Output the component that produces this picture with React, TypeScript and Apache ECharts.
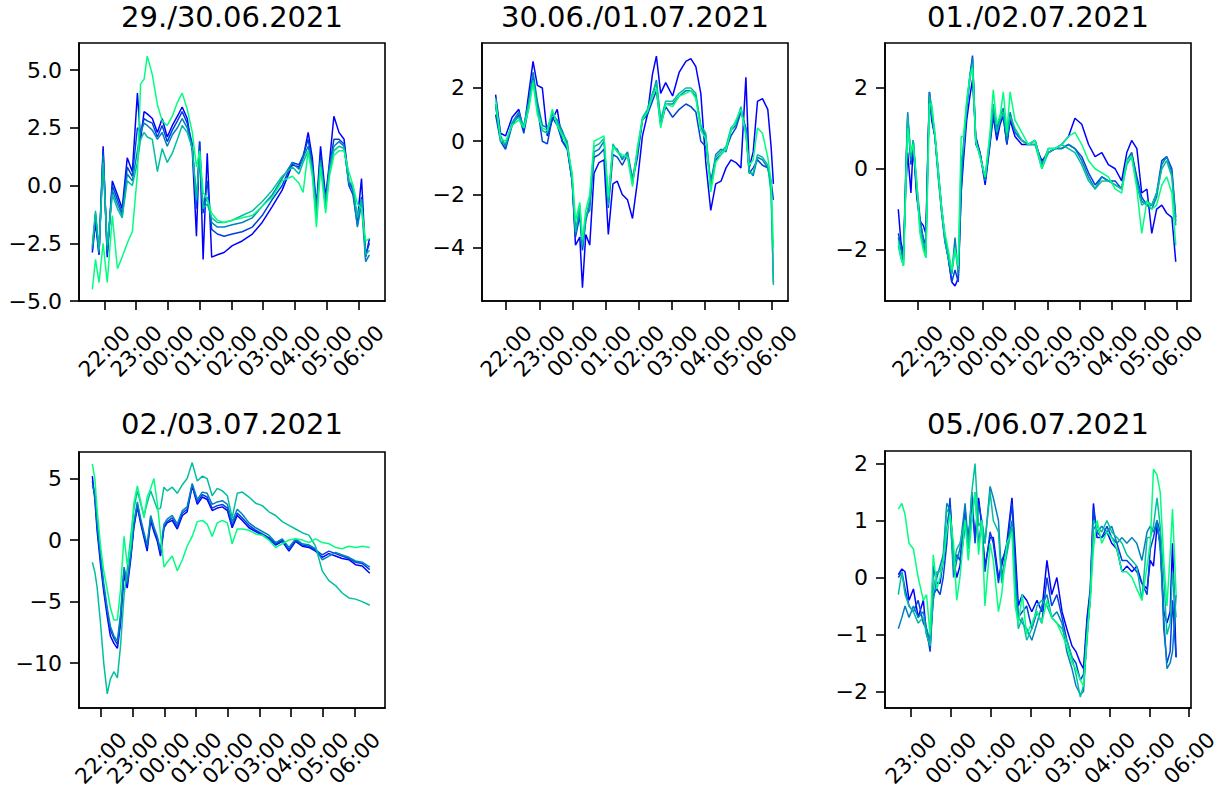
import React, { useEffect, useRef } from "react";
import * as echarts from "echarts";

// ---------- colours (winter colormap, 5 steps) ----------
const LINE_COLORS = ["#0000ff", "#0040df", "#0080bf", "#00bf9f", "#00ff80"];
const FONT = "DejaVu Sans";

// ---------- tick values ----------
const X_TICKS_A = [22, 23, 24, 25, 26, 27, 28, 29, 30]; // 22:00 .. 06:00
const X_TICKS_B = [23, 24, 25, 26, 27, 28, 29, 30]; // 23:00 .. 06:00

// ---------- Panel 1: 29./30.06.2021 ----------
const P1_TITLE = "29./30.06.2021";
const P1_Y_TICKS = [-5, -2.5, 0, 2.5, 5];
const P1_HOURS = [21.62, 21.72, 21.83, 21.96, 22.09, 22.25, 22.41, 22.56, 22.72, 22.88, 23.04, 23.14, 23.25, 23.35, 23.51, 23.67, 23.82, 23.98, 24.14, 24.30, 24.45, 24.61, 24.77, 24.90, 25.00, 25.11, 25.24, 25.38, 25.56, 25.77, 26.03, 26.34, 26.66, 26.97, 27.29, 27.60, 27.92, 28.13, 28.26, 28.42, 28.55, 28.68, 28.81, 28.97, 29.09, 29.23, 29.39, 29.55, 29.70, 29.83, 29.97, 30.10, 30.23, 30.35];
const P1_L0 = [-2.9, -1.6, -3.0, 1.7, -3.1, 0.2, -0.4, -1.0, 1.2, 0.6, 4.0, 2.0, 3.2, 3.1, 2.9, 2.3, 2.9, 2.1, 2.6, 3.0, 3.4, 2.9, 1.5, -2.2, 1.9, -3.2, 1.4, -3.1, -3.0, -2.9, -2.6, -2.4, -2.1, -1.6, -0.9, -0.2, 0.9, 0.8, 1.2, 2.3, 1.2, -0.9, 1.7, -0.5, 1.0, 3.0, 2.3, 2.0, 0.2, -0.2, -1.5, 0.3, -3.1, -2.3];
const P1_L1 = [-2.8, -1.3, -3.0, 1.5, -3.0, 0.0, -0.6, -1.2, 0.8, 0.4, 2.5, 2.3, 2.9, 2.8, 2.7, 2.1, 2.6, 1.9, 2.4, 2.8, 3.2, 2.7, 1.8, -1.0, 1.9, -1.2, 0.2, -1.9, -2.1, -2.2, -2.1, -2.0, -1.8, -1.3, -0.6, 0.0, 1.0, 0.9, 1.3, 2.0, 0.9, -1.2, 1.3, -0.8, 0.8, 2.0, 2.0, 1.8, 0.0, -0.4, -1.7, -0.5, -3.0, -2.5];
const P1_L2 = [-2.7, -1.2, -2.9, 1.3, -2.8, -0.2, -0.8, -1.3, 0.5, 0.2, 1.5, 2.3, 2.7, 2.6, 2.4, 2.0, 2.3, 1.7, 2.2, 2.5, 2.9, 2.5, 1.6, -0.7, 1.5, -1.0, -0.5, -1.6, -1.8, -1.8, -1.7, -1.6, -1.4, -0.9, -0.4, 0.3, 1.0, 0.7, 1.2, 1.7, 0.8, -1.0, 1.1, -0.7, 0.8, 1.7, 1.9, 1.7, 0.1, -0.2, -1.8, -0.8, -3.3, -3.0];
const P1_L3 = [-2.6, -1.1, -2.8, 1.0, -2.6, -0.4, -1.0, -1.4, 0.2, 0.0, 1.0, 2.0, 2.3, 2.1, 2.0, 0.6, 1.6, 1.0, 1.4, 2.0, 2.6, 2.3, 1.6, -0.6, 1.3, -1.0, -0.8, -1.4, -1.6, -1.6, -1.5, -1.3, -1.1, -0.7, -0.2, 0.4, 0.8, 0.5, 1.0, 1.5, 0.6, -1.4, 1.0, -1.0, 0.6, 1.5, 1.7, 1.6, 0.2, 0.0, -1.4, -0.6, -3.0, -2.8];
const P1_L4 = [-4.5, -3.2, -4.2, -2.5, -4.2, -1.3, -3.6, -3.1, -2.5, -2.0, 0.5, 4.4, 4.6, 5.6, 4.8, 3.5, 2.8, 2.6, 3.0, 3.6, 4.0, 3.3, 2.3, 0.8, 1.5, -0.3, -0.6, -1.2, -1.5, -1.6, -1.5, -1.4, -1.3, -0.9, -0.5, 0.2, 0.4, 0.1, -0.3, 1.5, 0.4, -1.8, 0.8, -1.2, 0.4, 1.3, 1.5, 1.5, 0.6, 0.0, -0.8, -1.0, -2.4, -2.3];

// ---------- Panel 2: 30.06./01.07.2021 ----------
const P2_TITLE = "30.06./01.07.2021";
const P2_Y_TICKS = [-4, -2, 0, 2];
const P2_HOURS = [21.68, 21.83, 21.98, 22.18, 22.38, 22.53, 22.68, 22.81, 22.94, 23.09, 23.24, 23.39, 23.54, 23.69, 23.84, 23.99, 24.09, 24.22, 24.30, 24.40, 24.52, 24.65, 24.80, 24.95, 25.08, 25.22, 25.35, 25.50, 25.66, 25.81, 25.96, 26.11, 26.26, 26.41, 26.53, 26.66, 26.81, 27.02, 27.22, 27.42, 27.57, 27.72, 27.87, 28.02, 28.17, 28.32, 28.48, 28.63, 28.78, 28.93, 29.08, 29.23, 29.33, 29.45, 29.58, 29.73, 29.89, 29.99, 30.06];
const P2_L0 = [1.75, 0.3, 0.2, 0.9, 1.2, 0.4, 1.8, 3.0, 2.1, 2.0, 0.2, 0.8, 1.2, 0.0, -0.2, -1.5, -3.9, -3.6, -5.5, -3.5, -3.9, -1.2, -0.8, -0.7, -3.5, -1.6, -1.5, -2.0, -2.2, -2.9, -1.5, 0.2, 1.0, 2.5, 3.2, 1.8, 2.2, 1.7, 2.6, 3.0, 3.1, 2.8, 1.8, -0.8, -2.6, -1.6, -1.5, -1.0, -0.7, -0.8, -1.0, 2.4, -1.0, -0.4, 1.5, 1.6, 1.2, -0.2, -1.6];
const P2_L1 = [1.0, 0.0, -0.3, 0.6, 1.0, 0.3, 1.3, 2.4, 1.3, 0.0, -0.1, 0.9, 0.6, 0.0, -0.3, -1.5, -3.6, -2.8, -4.1, -3.0, -2.3, -0.6, -0.5, -0.3, -2.5, -0.5, -0.6, -0.9, -0.5, -1.5, -0.6, 0.8, 1.0, 1.5, 1.9, 0.6, 1.3, 0.9, 1.2, 1.4, 1.3, 1.1, 0.0, -0.2, -1.5, -0.7, -0.5, -0.3, 0.2, 0.5, 1.1, 0.5, -1.2, -1.0, -0.7, -0.9, -1.0, -1.5, -2.2];
const P2_L2 = [1.3, 0.2, -0.2, 0.7, 1.1, 0.5, 1.5, 2.6, 1.5, 0.6, 0.5, 1.0, 0.8, 0.4, -0.1, -1.5, -3.5, -2.6, -4.0, -2.8, -2.6, -0.4, -0.3, 0.0, -2.3, -0.2, -0.3, -0.7, -0.4, -1.4, -0.4, 0.8, 1.1, 1.7, 2.3, 0.7, 1.4, 1.4, 1.7, 1.9, 1.9, 1.7, 0.5, 0.2, -1.6, -0.5, -0.3, -0.4, 0.4, 0.6, 1.2, 0.4, -1.1, -1.3, -0.6, -0.7, -1.0, -1.6, -5.3];
const P2_L3 = [1.4, 0.0, -0.1, 0.7, 0.9, 0.6, 1.4, 2.3, 1.2, 0.4, 0.3, 1.1, 0.7, 0.3, 0.0, -1.4, -3.4, -2.4, -3.9, -2.9, -2.2, -0.2, -0.1, 0.1, -2.4, -0.1, -0.4, -0.6, -0.5, -1.6, -0.3, 0.9, 1.2, 1.8, 2.2, 0.8, 1.5, 1.5, 1.8, 2.0, 2.0, 1.8, 0.6, 0.3, -1.8, -0.6, -0.4, -0.2, 0.5, 0.7, 1.3, 0.3, -1.2, -1.2, -0.5, -0.6, -0.9, -2.0, -5.4];
const P2_L4 = [1.6, 0.1, 0.0, 0.6, 0.8, 0.5, 1.2, 2.2, 1.0, 0.5, 0.4, 1.2, 0.6, 0.2, -0.2, -1.2, -3.0, -2.3, -3.7, -2.6, -2.0, 0.0, 0.1, 0.2, -2.1, -0.2, -0.4, -0.5, -0.6, -1.7, -0.2, 0.8, 1.1, 1.7, 2.0, 0.5, 1.4, 1.3, 1.7, 1.8, 1.9, 1.6, 0.4, 0.1, -1.9, -0.8, -0.5, -0.3, 0.4, 0.8, 1.2, 0.2, -0.9, -0.7, 0.5, 0.3, -0.6, -1.5, -4.0];

// ---------- Panel 3: 01./02.07.2021 ----------
const P3_TITLE = "01./02.07.2021";
const P3_Y_TICKS = [-2, 0, 2];
const P3_HOURS = [21.40, 21.48, 21.56, 21.63, 21.69, 21.79, 21.86, 21.97, 22.07, 22.17, 22.25, 22.31, 22.36, 22.43, 22.53, 22.64, 22.74, 22.84, 22.94, 23.05, 23.15, 23.25, 23.34, 23.41, 23.51, 23.61, 23.69, 23.79, 23.92, 24.08, 24.23, 24.33, 24.44, 24.54, 24.64, 24.75, 24.85, 25.00, 25.21, 25.41, 25.62, 25.83, 26.03, 26.24, 26.44, 26.65, 26.85, 27.06, 27.27, 27.47, 27.68, 27.88, 28.09, 28.29, 28.45, 28.60, 28.76, 28.91, 29.07, 29.22, 29.37, 29.53, 29.68, 29.84, 29.96];
const P3_L0 = [-1.0, -1.8, -2.1, -0.5, 0.4, -0.6, 0.6, -0.7, -1.3, -1.4, -1.6, 0.3, 1.9, 1.2, 0.8, -0.2, -1.1, -1.8, -2.2, -2.8, -2.9, -2.7, -0.6, 0.2, 1.2, 1.8, 2.2, 0.8, 0.4, -0.4, 0.6, 1.3, 0.7, 1.1, 1.3, 0.6, 1.2, 0.8, 0.6, 0.6, 0.6, 0.2, 0.4, 0.5, 0.6, 0.8, 1.25, 1.1, 0.6, 0.3, 0.4, 0.1, 0.0, -0.3, 0.4, 0.7, 0.5, -0.6, -0.5, -1.6, -1.0, -0.9, -1.1, -1.2, -2.3];
const P3_L1 = [-1.6, -1.9, -2.2, -0.1, 1.3, 0.1, 0.7, -0.6, -1.3, -1.7, -1.9, 0.3, 1.8, 1.3, 0.8, -0.1, -1.0, -1.7, -2.2, -2.8, -2.5, -2.8, -0.5, 0.4, 1.5, 2.3, 2.8, 0.7, 0.4, -0.3, 0.7, 1.4, 0.8, 1.2, 1.3, 0.6, 1.3, 0.9, 0.7, 0.6, 0.7, 0.1, 0.4, 0.5, 0.5, 0.6, 0.5, 0.3, -0.1, -0.4, -0.2, -0.3, -0.3, -0.5, 0.2, 0.4, -0.2, -0.7, -0.9, -0.9, -0.6, 0.2, 0.3, 0.0, -1.2];
const P3_L2 = [-1.7, -2.0, -2.3, -0.2, 1.4, 0.2, 0.7, -0.4, -1.2, -1.8, -2.1, 0.2, 1.9, 1.5, 0.8, -0.2, -1.0, -1.7, -2.1, -2.6, -1.7, -2.6, -0.3, 0.6, 1.6, 2.3, 2.75, 0.6, 0.4, -0.3, 0.7, 1.5, 1.0, 1.3, 1.5, 0.7, 1.4, 0.9, 0.7, 0.6, 0.7, 0.1, 0.5, 0.5, 0.5, 0.6, 0.5, 0.2, -0.2, -0.5, -0.2, -0.3, -0.4, -0.5, 0.2, 0.4, -0.3, -0.8, -0.9, -1.0, -0.7, 0.1, 0.3, -0.1, -1.3];
const P3_L3 = [-1.9, -2.2, -2.4, -0.3, 1.3, 0.3, 0.7, -0.5, -1.5, -1.9, -2.2, 0.0, 1.8, 1.4, 0.8, -0.3, -1.1, -1.8, -2.2, -2.6, -2.0, -2.5, 0.2, 0.5, 1.5, 2.2, 2.6, 0.7, 0.3, -0.2, 0.8, 1.6, 0.9, 1.2, 1.4, 0.8, 1.3, 1.0, 0.7, 0.6, 0.6, 0.0, 0.4, 0.5, 0.6, 0.5, 0.4, 0.1, -0.3, -0.5, -0.3, -0.3, -0.4, -0.5, 0.1, 0.3, -0.4, -0.9, -0.8, -0.9, -0.6, 0.0, 0.2, -0.2, -1.4];
const P3_L4 = [-1.8, -2.2, -2.4, -0.5, 1.0, 0.4, 0.6, -0.3, -1.6, -2.0, -2.2, -0.2, 1.6, 1.6, 0.9, -0.1, -1.0, -1.6, -2.0, -2.5, -2.0, -2.4, 0.8, 0.8, 1.7, 2.3, 2.5, 0.7, 0.3, -0.2, 0.9, 1.95, 1.1, 1.3, 1.9, 0.9, 1.9, 1.2, 0.9, 0.6, 0.7, 0.0, 0.5, 0.5, 0.6, 0.8, 0.9, 0.6, 0.2, 0.0, -0.1, -0.2, -0.5, -0.6, 0.2, 0.3, -0.5, -1.6, -0.8, -1.0, -0.9, -0.4, -0.2, -0.6, -1.9];

// ---------- Panel 4: 02./03.07.2021 ----------
const P4_TITLE = "02./03.07.2021";
const P4_Y_TICKS = [-10, -5, 0, 5];
const P4_HOURS = [21.73, 21.81, 21.88, 21.99, 22.09, 22.20, 22.30, 22.41, 22.52, 22.62, 22.73, 22.83, 22.94, 23.04, 23.15, 23.25, 23.36, 23.46, 23.57, 23.67, 23.78, 23.88, 23.99, 24.09, 24.25, 24.41, 24.57, 24.72, 24.88, 25.04, 25.20, 25.35, 25.51, 25.67, 25.83, 25.99, 26.14, 26.30, 26.46, 26.67, 26.88, 27.09, 27.30, 27.51, 27.72, 27.93, 28.14, 28.35, 28.56, 28.77, 28.98, 29.19, 29.40, 29.61, 29.82, 30.03, 30.24, 30.48];
const P4_L0 = [5.2, 3.3, 0.8, -2.0, -4.2, -6.2, -7.8, -8.4, -8.8, -6.8, -2.8, -3.9, -1.6, 1.0, 2.7, 1.4, 0.2, -0.9, 1.6, 0.7, -0.1, -1.3, 1.0, 1.4, 1.6, 0.9, 2.0, 2.3, 4.4, 2.9, 3.5, 3.3, 2.4, 2.6, 2.7, 2.4, 1.0, 2.0, 1.6, 1.0, 0.7, 0.4, 0.1, -0.4, -0.1, -0.9, -0.1, -0.5, -0.6, -0.9, -1.4, -1.1, -1.3, -1.5, -1.6, -2.0, -2.1, -2.7];
const P4_L1 = [4.8, 3.6, 1.2, -1.6, -3.9, -5.8, -7.3, -8.0, -8.5, -6.4, -2.4, -3.6, -1.3, 1.2, 2.9, 1.6, 0.4, -0.6, 1.8, 0.9, 0.1, -1.0, 1.1, 1.5, 1.8, 1.1, 2.2, 2.5, 4.5, 3.1, 3.7, 3.5, 2.6, 2.8, 2.9, 2.6, 1.2, 2.2, 1.8, 1.2, 0.8, 0.5, 0.2, -0.3, 0.0, -0.8, 0.0, -0.4, -0.5, -0.8, -1.2, -0.9, -1.1, -1.3, -1.5, -1.8, -1.9, -2.4];
const P4_L2 = [4.4, 3.8, 1.5, -1.2, -3.5, -5.5, -7.0, -7.8, -8.2, -6.0, -2.2, -3.4, -1.1, 1.4, 3.1, 1.8, 0.6, -0.4, 2.0, 1.1, 0.3, -0.8, 1.3, 1.7, 2.0, 1.3, 2.4, 2.7, 4.6, 3.3, 3.9, 3.8, 2.9, 3.1, 3.2, 2.9, 1.5, 2.5, 2.1, 1.4, 1.0, 0.7, 0.4, -0.2, 0.1, -0.6, 0.1, -0.3, -0.4, -0.7, -1.6, -1.3, -1.0, -1.2, -1.4, -1.7, -1.8, -2.2];
const P4_L3 = [-1.8, -2.6, -3.8, -6.8, -10.0, -12.5, -11.3, -10.7, -11.2, -8.6, -4.5, -2.4, 0.2, 2.5, 4.0, 3.0, 2.0, 3.0, 4.0, 3.3, 2.5, 2.6, 4.3, 4.0, 4.3, 3.8, 4.5, 5.0, 6.3, 4.8, 5.2, 5.0, 3.6, 4.2, 4.0, 3.6, 1.8, 3.8, 3.9, 3.5, 3.0, 2.8, 2.3, 2.0, 1.5, 1.2, 0.9, 0.6, 0.4, -0.5, -2.5, -3.3, -3.7, -4.3, -4.7, -4.8, -5.0, -5.3];
const P4_L4 = [6.2, 5.0, 2.5, -0.5, -2.5, -4.0, -5.5, -6.5, -6.5, -4.0, 0.3, -2.0, -0.5, 3.0, 4.4, 3.2, 1.8, 3.5, 4.2, 5.0, 3.0, 0.5, -2.2, -1.8, -1.3, -2.5, -1.6, -0.5, 0.3, 1.5, 1.6, 1.3, 0.3, 1.4, 1.6, 1.4, -0.3, 0.9, 0.9, 0.8, 0.5, 0.4, 0.0, -0.6, -0.3, 0.0, 0.1, 0.0, -0.2, 0.1, -0.2, -0.3, -0.6, -0.7, -0.5, -0.6, -0.5, -0.6];

// ---------- Panel 5: 05./06.07.2021 ----------
const P5_TITLE = "05./06.07.2021";
const P5_Y_TICKS = [-2, -1, 0, 1, 2];
const P5_HOURS = [22.68, 22.77, 22.85, 22.95, 23.06, 23.18, 23.31, 23.39, 23.48, 23.56, 23.65, 23.73, 23.81, 23.90, 23.98, 24.07, 24.15, 24.23, 24.36, 24.44, 24.53, 24.61, 24.70, 24.78, 24.86, 24.99, 25.07, 25.20, 25.28, 25.41, 25.54, 25.62, 25.70, 25.80, 25.91, 26.04, 26.17, 26.29, 26.42, 26.54, 26.67, 26.80, 26.92, 27.05, 27.15, 27.26, 27.34, 27.43, 27.51, 27.59, 27.68, 27.80, 27.93, 28.05, 28.18, 28.31, 28.43, 28.56, 28.68, 28.81, 28.94, 29.02, 29.10, 29.19, 29.27, 29.36, 29.44, 29.52, 29.58, 29.67];
const P5_L0 = [0.05, 0.15, 0.1, -0.4, -0.2, -0.7, -0.4, -1.0, -1.2, 0.2, -0.1, -0.1, 0.3, 0.8, 1.3, 0.3, 0.0, 0.2, 0.9, 0.7, 1.3, 0.7, 1.4, 0.9, 0.2, 0.7, 0.7, 0.0, 0.2, 0.6, 1.4, 0.5, -0.5, -0.3, -0.4, -0.6, -0.4, -0.6, 0.3, -0.3, 0.0, -0.6, -0.9, -1.2, -1.3, -1.5, -1.6, -0.7, -0.2, 1.3, 0.7, 0.7, 0.8, 0.6, 0.5, 0.1, 0.2, 0.1, 0.2, -0.1, -0.2, 0.3, 0.2, 0.9, 0.6, -0.6, -0.8, -0.6, 0.6, -1.4];
const P5_L1 = [0.0, 0.1, -0.2, -0.5, -0.6, -0.4, -0.8, -0.9, -1.3, -0.3, -0.2, -0.3, 0.0, 0.6, 1.4, 0.2, 0.4, 0.3, 1.2, 0.5, 1.5, 0.6, 1.3, 1.0, 0.1, 0.8, 0.6, -0.1, 0.3, 0.5, 1.3, 0.3, -0.7, -0.6, -0.5, -0.9, -0.6, -0.8, 0.0, -0.5, -0.3, -0.7, -1.1, -1.4, -1.5, -1.8, -1.7, -0.8, -0.3, 1.2, 0.8, 0.7, 0.9, 0.7, 0.6, 0.3, 0.3, 0.2, 0.1, -0.1, -0.3, 0.5, 0.7, 1.0, 0.8, -0.9, -1.5, -1.3, -0.4, -1.4];
const P5_L2 = [-0.9, -0.7, -0.5, -0.7, -0.5, -0.7, -0.6, -0.9, -1.1, -0.4, 0.0, 0.2, 0.4, 1.3, 1.2, 0.0, 0.3, 0.5, 1.3, 0.6, 1.0, 1.5, 0.6, 1.0, 0.6, 1.6, 1.4, 1.0, 0.0, 0.5, 1.0, 0.0, -0.7, -0.8, -0.9, -1.1, -0.8, -0.5, -0.3, -0.7, -0.6, -0.8, -1.3, -1.6, -1.9, -2.05, -2.0, -1.0, -0.4, 0.9, 0.8, 0.9, 0.8, 0.9, 0.6, 0.7, 0.6, 0.7, 0.6, 0.3, 0.8, 0.9, 0.8, 1.0, 0.5, -0.7, -1.6, -1.5, -1.3, -0.3];
const P5_L3 = [-0.3, 0.1, -0.3, -0.5, -0.6, -0.8, -0.7, -1.0, -1.2, -0.2, 0.1, 0.1, 0.3, 1.2, 1.1, 0.2, 0.5, 0.6, 1.0, 0.5, 1.5, 2.0, 0.9, 1.0, 0.6, 1.5, 1.0, 0.8, -0.1, 0.4, 0.9, -0.2, -0.9, -0.7, -1.1, -0.9, -0.5, -0.4, -0.5, -0.7, -0.8, -0.9, -1.1, -1.4, -1.7, -2.1, -1.9, -1.1, -0.3, 1.0, 0.9, 0.8, 1.0, 0.8, 0.7, 0.6, 0.4, 0.3, 0.2, -0.4, 0.7, 0.7, 0.9, 1.4, 0.9, 0.0, -1.0, -0.8, 0.1, -0.7];
const P5_L4 = [1.2, 1.3, 1.1, 0.6, 0.5, 0.0, -0.4, -0.3, -1.0, 0.4, -0.2, 0.0, 0.3, 0.8, 1.1, 0.6, -0.4, 0.0, 1.0, 0.3, 1.0, 1.5, 0.4, 1.0, -0.5, 0.6, 0.3, -0.6, -0.3, 0.6, 0.8, -0.5, -0.8, -0.3, -1.0, -0.8, -0.6, -0.8, -0.4, -0.7, -0.8, -1.0, -1.2, -1.5, -1.6, -1.8, -1.9, -1.0, -0.4, 0.5, 1.0, 0.6, 0.8, 0.7, 0.5, 0.1, 0.1, 0.0, -0.2, -0.4, 0.2, 0.6, 1.9, 1.8, 1.5, 0.3, -0.5, 0.4, 1.2, -0.3];

const PANELS = [
  { title: P1_TITLE, hours: P1_HOURS, lines: [P1_L0, P1_L1, P1_L2, P1_L3, P1_L4], yTicks: P1_Y_TICKS, xTicks: X_TICKS_A, decimals: 1 },
  { title: P2_TITLE, hours: P2_HOURS, lines: [P2_L0, P2_L1, P2_L2, P2_L3, P2_L4], yTicks: P2_Y_TICKS, xTicks: X_TICKS_A, decimals: 0 },
  { title: P3_TITLE, hours: P3_HOURS, lines: [P3_L0, P3_L1, P3_L2, P3_L3, P3_L4], yTicks: P3_Y_TICKS, xTicks: X_TICKS_A, decimals: 0 },
  { title: P4_TITLE, hours: P4_HOURS, lines: [P4_L0, P4_L1, P4_L2, P4_L3, P4_L4], yTicks: P4_Y_TICKS, xTicks: X_TICKS_A, decimals: 0 },
  { title: P5_TITLE, hours: P5_HOURS, lines: [P5_L0, P5_L1, P5_L2, P5_L3, P5_L4], yTicks: P5_Y_TICKS, xTicks: X_TICKS_B, decimals: 0 },
];

// ---------- layout (pixels) and axis ranges ----------
const LAYOUT = [
  { left: 79, top: 43, width: 306, height: 258, xMin: 21.2, xMax: 30.84, yMin: -5.0, yMax: 6.17, titleY: 17 },
  { left: 482, top: 43, width: 306, height: 258, xMin: 21.27, xMax: 30.5, yMin: -6.0, yMax: 3.69, titleY: 17 },
  { left: 885, top: 43, width: 306, height: 258, xMin: 20.99, xMax: 30.43, yMin: -3.27, yMax: 3.11, titleY: 17 },
  { left: 79, top: 452, width: 306, height: 256, xMin: 21.31, xMax: 30.96, yMin: -13.65, yMax: 7.16, titleY: 424 },
  { left: 885, top: 451, width: 306, height: 257, xMin: 22.345, xMax: 30.045, yMin: -2.29, yMax: 2.22, titleY: 424 },
];

const Y_TICK_FONT = 22;
const X_TICK_FONT = 21.5;
const TITLE_FONT = 29;

function hourLabel(v: number): string {
  const h = Math.round(v) % 24;
  return (h < 10 ? "0" : "") + h + ":00";
}

function numLabel(v: number, decimals: number): string {
  const s = Math.abs(v).toFixed(decimals);
  return (v < 0 ? "\u2212" : "") + s;
}

export default function App() {
  const ref = useRef<HTMLDivElement>(null);

  useEffect(() => {
    if (!ref.current) return;
    const chart = echarts.init(ref.current, null, { renderer: "svg" });

    const grids: any[] = [];
    const xAxes: any[] = [];
    const yAxes: any[] = [];
    const series: any[] = [];
    const graphics: any[] = [];

    PANELS.forEach((p, i) => {
      const L = LAYOUT[i];
      grids.push({
        left: L.left,
        top: L.top,
        width: L.width,
        height: L.height,
        show: true,
        borderColor: "#000",
        borderWidth: 1.6,
        backgroundColor: "transparent",
        containLabel: false,
        outerBoundsMode: "none",
      });
      xAxes.push({
        type: "value",
        gridIndex: i,
        min: L.xMin,
        max: L.xMax,
        axisLine: { show: true, onZero: false, lineStyle: { color: "#000", width: 1.6 } },
        axisTick: { show: true, length: 9, customValues: p.xTicks, lineStyle: { color: "#000", width: 1.6 } },
        axisLabel: {
          customValues: p.xTicks,
          rotate: 45,
          align: "center",
          verticalAlign: "middle",
          margin: 50,
          formatter: (v: number) => hourLabel(v),
          fontSize: X_TICK_FONT,
          fontFamily: FONT,
          color: "#000",
        },
        splitLine: { show: false },
      });
      yAxes.push({
        type: "value",
        gridIndex: i,
        min: L.yMin,
        max: L.yMax,
        axisLine: { show: true, onZero: false, lineStyle: { color: "#000", width: 1.6 } },
        axisTick: { show: true, length: 9, customValues: p.yTicks, lineStyle: { color: "#000", width: 1.6 } },
        axisLabel: {
          customValues: p.yTicks,
          margin: 17,
          formatter: (v: number) => numLabel(v, p.decimals),
          fontSize: Y_TICK_FONT,
          fontFamily: FONT,
          color: "#000",
        },
        splitLine: { show: false },
      });
      p.lines.forEach((vals, k) => {
        series.push({
          type: "line",
          xAxisIndex: i,
          yAxisIndex: i,
          data: p.hours.map((h, j) => [h, vals[j]]),
          showSymbol: false,
          symbol: "none",
          silent: true,
          lineStyle: { color: LINE_COLORS[k], width: 1.5 },
          itemStyle: { color: LINE_COLORS[k] },
          z: 2 + k,
        });
      });
      graphics.push({
        type: "text",
        x: L.left + L.width / 2,
        y: L.titleY,
        style: {
          text: p.title,
          fontSize: TITLE_FONT,
          fontFamily: FONT,
          fill: "#000",
          align: "center",
          verticalAlign: "middle",
        },
      });
    });

    chart.setOption({
      animation: false,
      backgroundColor: "#fff",
      grid: grids,
      xAxis: xAxes,
      yAxis: yAxes,
      series,
      graphic: graphics,
    });

    return () => chart.dispose();
  }, []);

  return (
    <div
      ref={ref}
      style={{ position: "absolute", left: 0, top: 0, width: 1225, height: 789, background: "#fff" }}
    />
  );
}
